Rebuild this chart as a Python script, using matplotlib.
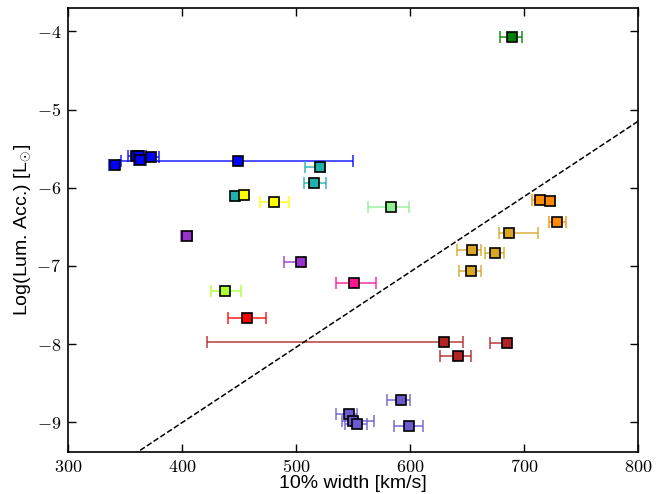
"""
  Accretion luminosity vs 10% width of H-alpha
  Save figure as out.png
"""
import matplotlib
matplotlib.use('Agg')
import matplotlib.pyplot as plt
from matplotlib.ticker import FuncFormatter

plt.rcParams['mathtext.fontset'] = 'cm'
plt.rcParams['font.family'] = ['Liberation Sans', 'DejaVu Sans']

# 10% width [km/s]
width = [689, 341, 360, 362, 363, 373, 449,
         446, 454, 481, 521, 516, 583,
         404, 504, 438, 457, 551,
         714, 723, 729, 687, 654, 674, 653,
         630, 685, 642,
         592, 599, 546, 550, 553]
# Log(Lum. Acc.)
lacc = [-4.07, -5.71, -5.59, -5.60, -5.65, -5.61, -5.66,
        -6.11, -6.09, -6.18, -5.73, -5.94, -6.25,
        -6.62, -6.95, -7.32, -7.66, -7.22,
        -6.16, -6.17, -6.44, -6.58, -6.80, -6.83, -7.06,
        -7.97, -7.99, -8.15,
        -8.71, -9.05, -8.89, -8.98, -9.02]
err_lo = [10, 5, 7, 6, 5, 7, 103,
          2, 2, 13, 13, 9, 20,
          5, 15, 13, 17, 16,
          7, 4, 7, 9, 13, 8, 10,
          208, 15, 16,
          12, 13, 11, 10, 10]
err_hi = [9, 4, 6, 6, 5, 7, 101,
          2, 2, 13, 4, 10, 16,
          5, 3, 14, 17, 19,
          4, 4, 8, 25, 8, 8, 9,
          16, 3, 11,
          8, 12, 7, 18, 9]
colors = ['green', 'blue', 'blue', 'blue', 'blue', 'blue', 'blue',
          'lightseagreen', 'yellow', 'yellow', 'lightseagreen', 'lightseagreen', 'lightgreen',
          'darkorchid', 'darkorchid', 'greenyellow', 'red', 'deeppink',
          'darkorange', 'darkorange', 'darkorange', 'goldenrod', 'goldenrod', 'goldenrod', 'goldenrod',
          'firebrick', 'firebrick', 'firebrick',
          'slateblue', 'slateblue', 'slateblue', 'slateblue', 'slateblue']

# dashed relation
line_x = [300, 800]
slope, icpt = 0.00964, -12.86

fig = plt.figure(figsize=(6.67, 4.94), dpi=100)
ax = fig.add_axes([0.102, 0.085, 0.855, 0.899])

for x, y, lo, hi, c in zip(width, lacc, err_lo, err_hi, colors):
  ax.errorbar([x], [y], xerr=[[lo], [hi]], fmt='none', ecolor=c,
              elinewidth=1.3, capsize=4, capthick=1.3, alpha=0.75)
  ax.plot([x], [y], 's', color=c, markersize=7, markeredgecolor='black',
          markeredgewidth=1.2, zorder=3)

ax.plot(line_x, [slope*v + icpt for v in line_x], 'k--', lw=1.1)

ax.set_xlim(300, 800)
ax.set_ylim(-9.38, -3.7)
ax.set_xticks([300, 400, 500, 600, 700, 800])
ax.set_yticks([-9, -8, -7, -6, -5, -4])
fmt = FuncFormatter(lambda v, p: r'$%d$' % v)
ax.xaxis.set_major_formatter(fmt)
ax.yaxis.set_major_formatter(fmt)
ax.tick_params(direction='in', top=True, right=True, length=6, width=1,
               labelsize=13, pad=5)
for s in ax.spines.values():
  s.set_linewidth(1.2)

ax.set_xlabel('10% width [km/s]', fontsize=14, va='center')
ax.set_ylabel(r'Log(Lum. Acc.) [L$_{\odot}$]', fontsize=14, va='center')
ax.xaxis.set_label_coords(0.5, -0.072)
ax.yaxis.set_label_coords(-0.08, 0.5)

plt.savefig('out.png', dpi=100)
